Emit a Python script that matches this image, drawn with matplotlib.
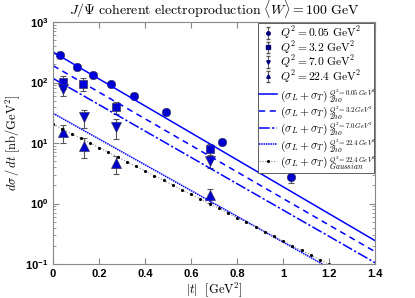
import numpy as np
import matplotlib
matplotlib.use("Agg")
import matplotlib.pyplot as plt
from matplotlib.patches import Rectangle
from matplotlib.ticker import LogLocator, MultipleLocator, NullFormatter

plt.rcParams['mathtext.fontset'] = 'cm'

# data points, |t| in GeV^2, dsigma/dt in nb/GeV^2
t_q005 = [0.030, 0.103, 0.172, 0.252, 0.352, 0.491, 0.732, 1.033]
y_q005 = [285, 182, 133, 93.3, 60.5, 32.5, 10.5, 2.71]
e_q005 = [30, 20, 15, 10, 7, 3.5, 1.2, 0.5]

t_q32 = [0.045, 0.132, 0.272, 0.683]
y_q32 = [103, 95.5, 39.4, 7.87]
e_q32 = [25, 22, 9, 1.8]

t_q70 = [0.045, 0.135, 0.272, 0.683]
y_q70 = [77, 26.6, 18.2, 5.1]
e_q70 = [18, 9, 6.5, 1.2]

t_q224 = [0.045, 0.135, 0.272, 0.683]
y_q224 = [15, 8.9, 4.6, 1.38]
e_q224 = [5, 3.3, 1.5, 0.35]

# model lines (straight in log scale), end points
t_2ho = [0.0, 1.4]
y_2ho_q005 = [319, 0.243]
y_2ho_q32 = [190, 0.16]
y_2ho_q70 = [117, 0.105]
t_2ho_q224 = [0.0, 1.17]
y_2ho_q224 = [31, 0.1]

t_gauss = [0.00, 0.04, 0.08, 0.12, 0.16, 0.20, 0.24, 0.28, 0.32, 0.36, 0.40,
           0.44, 0.48, 0.52, 0.56, 0.60, 0.64, 0.68, 0.72, 0.76, 0.80, 0.84,
           0.88, 0.92, 0.96, 1.00, 1.04, 1.08, 1.12, 1.16, 1.20]
y_gauss = [20.4, 17.1, 14.3, 12.0, 10.0, 8.39, 7.03, 5.88, 4.92, 4.12, 3.45,
           2.89, 2.42, 2.02, 1.69, 1.42, 1.19, 0.995, 0.832, 0.697, 0.583, 0.489,
           0.409, 0.342, 0.287, 0.240, 0.201, 0.168, 0.141, 0.118, 0.0987]

q_labels = [r'$Q^2 = 0.05\ \mathrm{GeV}^2$',
            r'$Q^2 = 3.2\ \mathrm{GeV}^2$',
            r'$Q^2 = 7.0\ \mathrm{GeV}^2$',
            r'$Q^2 = 22.4\ \mathrm{GeV}^2$']
m_base = r'$(\sigma_L+\sigma_T)$'
m_sup = [r'$Q^2\!=0.05\,GeV^2$', r'$Q^2\!=3.2\,GeV^2$', r'$Q^2\!=7.0\,GeV^2$',
         r'$Q^2\!=22.4\,GeV^2$', r'$Q^2\!=22.4\,GeV^2$']
m_sub = [r'$2ho$', r'$2ho$', r'$2ho$', r'$2ho$', r'$Gaussian$']

blue = '#0000ff'
mblue = '#0000cc'
ecol = '#555555'

fig = plt.figure(figsize=(4.15, 2.98), dpi=100)
ax = fig.add_axes([0.128, 0.114, 0.776, 0.812])

eb = dict(fmt='none', ecolor=ecol, elinewidth=0.8, capsize=2, capthick=0.8)
ax.errorbar(t_q005, y_q005, yerr=e_q005, **eb)
ax.errorbar(t_q32, y_q32, yerr=e_q32, **eb)
ax.errorbar(t_q70, y_q70, yerr=e_q70, **eb)
ax.errorbar(t_q224, y_q224, yerr=e_q224, **eb)

ms = dict(linestyle='none', markerfacecolor=mblue, markeredgecolor='#333366',
          markeredgewidth=0.5)
ax.plot(t_q005, y_q005, marker='o', markersize=6, **ms)
ax.plot(t_q32, y_q32, marker='s', markersize=5.5, **ms)
ax.plot(t_q70, y_q70, marker='v', markersize=6.5, **ms)
ax.plot(t_q224, y_q224, marker='^', markersize=6.5, **ms)

styles = [dict(ls='-'), dict(ls='--', dashes=(4, 3)),
          dict(ls='-.', dashes=(7, 1.5, 1.5, 1.5)), dict(ls=':', dashes=(1, 0.5))]
ax.plot(t_2ho, y_2ho_q005, color=blue, lw=1.1, **styles[0])
ax.plot(t_2ho, y_2ho_q32, color=blue, lw=1.1, **styles[1])
ax.plot(t_2ho, y_2ho_q70, color=blue, lw=1.1, **styles[2])
ax.plot(t_2ho_q224, y_2ho_q224, color=blue, lw=1.1, **styles[3])
gstyle = dict(ls=':', color='#888888', lw=0.8, marker='.', markersize=2.5,
              markerfacecolor='k', markeredgecolor='k')
ax.plot(t_gauss, y_gauss, **gstyle)

ax.set_yscale('log')
ax.set_xlim(0, 1.4)
ax.set_ylim(0.1, 1000)
ax.yaxis.set_major_locator(LogLocator(base=10, numticks=10))
ax.yaxis.set_minor_locator(LogLocator(base=10, subs=np.arange(2, 10), numticks=10))
ax.yaxis.set_minor_formatter(NullFormatter())
ax.tick_params(which='both', direction='in', top=True, right=True, color='#888888')
ax.tick_params(which='major', length=4)
ax.tick_params(which='minor', length=2)
for lab in ax.get_yticklabels():
    lab.set_fontweight('bold')
    lab.set_fontfamily('Liberation Sans')
    lab.set_fontsize(8)
ax.set_xticks([0, 0.2, 0.4, 0.6, 0.8, 1.0, 1.2, 1.4])
ax.set_xticklabels(['0', '0.2', '0.4', '0.6', '0.8', '1', '1.2', '1.4'],
                   fontweight='bold', fontfamily='Liberation Sans', fontsize=8)
for sp in ax.spines.values():
    sp.set_color('#888888')
    sp.set_linewidth(0.8)

ax.set_title(r'$J/\Psi\ \mathrm{coherent\ electroproduction}\ \langle W\rangle = 100\ \mathrm{GeV}$',
             fontsize=10, pad=5)
ax.set_xlabel(r'$|t|\ \ [\mathrm{GeV}^2]$', fontsize=9, labelpad=1)
ax.set_ylabel(r'$d\sigma\,/\,dt\ [\mathrm{nb/GeV}^2]$', fontsize=9, labelpad=2)

# legend: two frameless legends stacked, one shared frame
hq = []
for m in ['o', 's', 'v', '^']:
    hq.append(ax.errorbar([np.nan], [np.nan], yerr=[1], fmt=m, ecolor=ecol,
                          elinewidth=0.7, capsize=1.5, markersize=2.5,
                          markerfacecolor='#000080', markeredgecolor='#000080'))
hm = [plt.Line2D([], [], color=blue, lw=1.1, **s) for s in styles]
hm.append(plt.Line2D([], [], **gstyle))

x_leg = 0.637
leg1 = ax.legend(hq, q_labels, loc='upper left', bbox_to_anchor=(x_leg, 0.995),
                 fontsize=8.3, frameon=False, handlelength=1.5,
                 handletextpad=0.3, labelspacing=-0.2, borderpad=0.1,
                 borderaxespad=0)
ax.add_artist(leg1)
fig.canvas.draw()
inv = ax.transAxes.inverted()
bb1 = leg1.get_window_extent().transformed(inv)

leg2 = ax.legend(hm, [m_base] * 5, loc='upper left',
                 bbox_to_anchor=(x_leg, bb1.y0 - 0.005),
                 fontsize=8.3, frameon=False, handlelength=1.5,
                 handletextpad=0.3, labelspacing=0.12, borderpad=0.1,
                 borderaxespad=0)
fig.canvas.draw()
r = fig.canvas.get_renderer()
for txt, sup, sub in zip(leg2.get_texts(), m_sup, m_sub):
    tb = txt.get_window_extent(r)
    ax.text(tb.x1 + 1, tb.y1 + 0.5, sup, transform=None, fontsize=5,
            va='top', ha='left', zorder=6)
    ax.text(tb.x1 + 1, tb.y0 - 0.5, sub, transform=None, fontsize=5.5,
            va='bottom', ha='left', zorder=6)
bb2 = leg2.get_window_extent().transformed(inv)
frame = Rectangle((x_leg, bb2.y0 - 0.005), 0.996 - x_leg, 1.001 - bb2.y0,
                  transform=ax.transAxes, facecolor='white', edgecolor='#444444',
                  lw=0.6, zorder=4)
ax.add_patch(frame)

fig.savefig('out.png', dpi=100)
